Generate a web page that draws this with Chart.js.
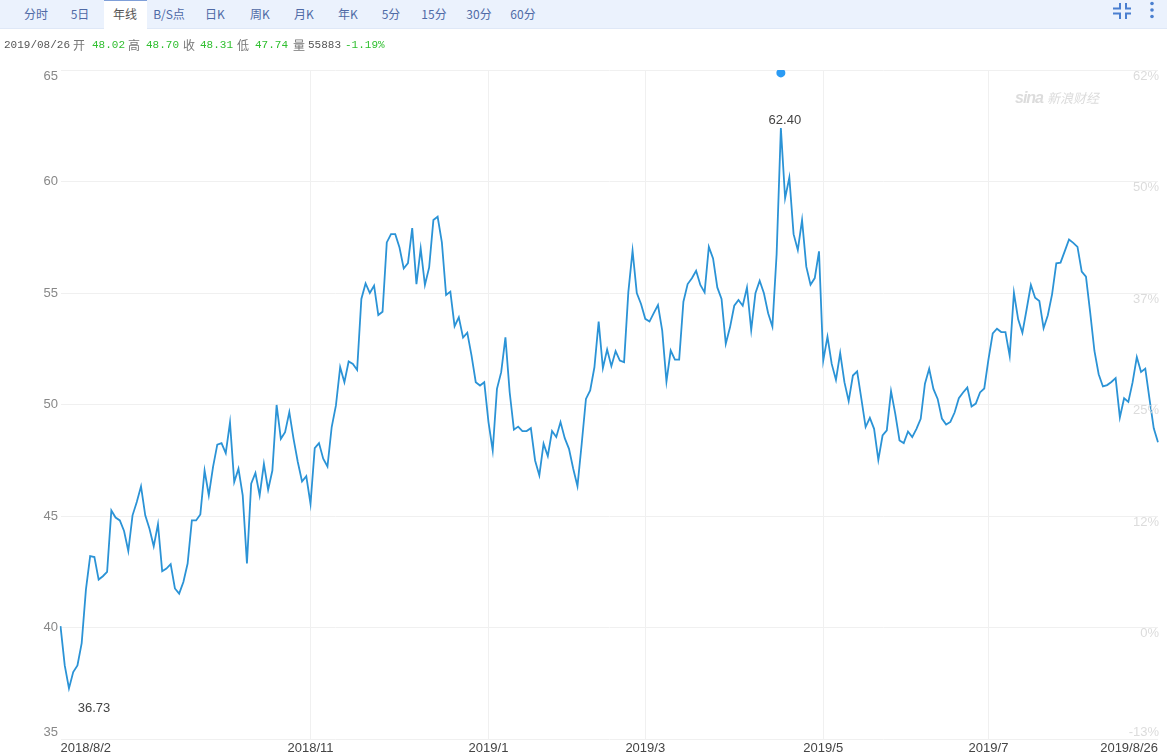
<!DOCTYPE html>
<html>
<head>
<meta charset="utf-8">
<style>
  html, body { margin: 0; padding: 0; background: #fff; overflow: hidden; }
  #page { position: relative; width: 1167px; height: 754px; }
  #bar { position: absolute; left: 0; top: 0; width: 1167px; height: 28px; background: #ebf2fd; border-bottom: 1px solid #dfe8f7; }
  #activeTab { position: absolute; left: 104px; top: 0; width: 43px; height: 29px; background: #fff; border-top: 1px solid #7f9fd8; box-sizing: border-box; }
  .tab { position: absolute; top: 5px; transform: translateX(-50%); font: 12px "Noto Sans CJK SC", sans-serif; line-height: 18px; color: #4f6aa6; white-space: nowrap; }
  .tab.on { color: #555; }
  .info { position: absolute; top: 37px; font: 11px "Liberation Mono", monospace; line-height: 16px; color: #555; white-space: nowrap; }
  .info.cn { font: 12px "Noto Sans CJK SC", sans-serif; line-height: 16px; color: #777; }
  .info.up { color: #2fbf2f; }
  #logo { position: absolute; left: 1015px; top: 88px; color: #dcdcdc; font-style: italic; white-space: nowrap; }
  #logo b { font: italic bold 16px "Liberation Sans", sans-serif; letter-spacing: -1px; }
  #logo span { font: italic 13px "Noto Sans CJK SC", sans-serif; }
  canvas { position: absolute; left: 0; top: 0; }
  svg { position: absolute; left: 0; top: 0; }
</style>
<script src="https://cdn.jsdelivr.net/npm/chart.js@4"></script>
</head>
<body>
<div id="page">
  <canvas id="myChart" width="1167" height="754"></canvas>
  <div id="bar"></div>
  <div id="activeTab"></div>
  <div id="logo"><b>sina</b> <span>新浪财经</span></div>
  <svg width="1167" height="29">
    <g fill="none" stroke="#4a7fd0" stroke-width="2">
      <path d="M1113 8.5h7V3M1131 8.5h-5V3M1113 13.5h7V19M1131 13.5h-5V19"/>
    </g>
    <g fill="#4a7fd0">
      <circle cx="1152" cy="3.5" r="1.8"/><circle cx="1152" cy="10" r="1.8"/><circle cx="1152" cy="16.5" r="1.8"/>
    </g>
  </svg>
</div>
<script>
// closing price per trading day
const closes = [
  40.06, 38.3, 37.27, 38.0, 38.3, 39.3, 41.7, 43.2, 43.16, 42.15,
  42.3, 42.5, 45.25, 44.93, 44.8, 44.33, 43.43, 45.03, 45.63, 46.33,
  45.03, 44.43, 43.64, 44.63, 42.52, 42.64, 42.84, 41.75, 41.52, 42.04,
  42.87, 44.8, 44.8, 45.07, 47.04, 45.93, 47.2, 48.2, 48.27, 47.82,
  49.2, 46.52, 47.12, 45.93, 42.87, 46.45, 46.93, 45.93, 47.34, 46.18,
  47.04, 49.98, 48.46, 48.76, 49.66, 48.46, 47.42, 46.55, 46.79, 45.55,
  48.04, 48.27, 47.57, 47.22, 48.99, 49.96, 51.67, 51.0, 51.93, 51.82,
  51.55, 54.73, 55.43, 55.0, 55.33, 54.01, 54.16, 57.27, 57.64, 57.64,
  57.04, 56.1, 56.34, 57.91, 55.4, 57.0, 55.36, 56.15, 58.27, 58.42,
  57.27, 54.91, 55.06, 53.51, 53.91, 53.0, 53.22, 52.19, 51.0, 50.85,
  51.0, 49.21, 47.94, 50.7, 51.45, 53.01, 50.55, 48.87, 49.01, 48.81,
  48.81, 48.94, 47.49, 46.82, 48.24, 47.69, 48.81, 48.54, 49.21, 48.49,
  48.01, 47.12, 46.34, 48.24, 50.25, 50.63, 51.67, 53.72, 51.63, 52.46,
  51.72, 52.39, 51.97, 51.9, 55.03, 56.9, 55.0, 54.51, 53.84, 53.72,
  54.1, 54.46, 53.31, 51.03, 52.42, 52.01, 52.01, 54.61, 55.4, 55.66,
  56.0, 55.36, 55.03, 57.07, 56.55, 55.25, 54.73, 52.72, 53.46, 54.43,
  54.69, 54.43, 55.25, 53.34, 54.99, 55.55, 54.99, 54.09, 53.49, 56.75,
  62.4, 59.25, 60.18, 57.64, 56.93, 58.27, 56.18, 55.37, 55.67, 56.87,
  51.97, 53.04, 51.82, 51.1, 52.31, 51.0, 50.15, 51.3, 51.49, 50.25,
  48.99, 49.4, 48.91, 47.52, 48.61, 48.84, 50.6, 49.58, 48.39, 48.27,
  48.79, 48.54, 48.91, 49.36, 50.93, 51.6, 50.7, 50.25, 49.37, 49.1,
  49.22, 49.64, 50.28, 50.54, 50.76, 49.91, 50.04, 50.54, 50.72, 52.03,
  53.19, 53.4, 53.25, 53.25, 52.18, 55.01, 53.82, 53.22, 54.27, 55.36,
  54.79, 54.64, 53.42, 54.0, 54.94, 56.33, 56.36, 56.88, 57.4, 57.25,
  57.07, 55.96, 55.73, 54.12, 52.4, 51.36, 50.81, 50.87, 51.01, 51.18,
  49.42, 50.28, 50.12, 50.99, 52.13, 51.46, 51.61, 50.24, 48.93, 48.31
];

const tickIndexes = [0, 59, 101, 138, 180, 219, 259];
const tickLabels = ['2018/8/2', '2018/11', '2019/1', '2019/3', '2019/5', '2019/7', '2019/8/26'];
const priceTicks = [65, 60, 55, 50, 45, 40, 35];
const percentTicks = ['62%', '50%', '37%', '25%', '12%', '0%', '-13%'];

const markerIndex = 170;
const markerValue = 64.87;
const highIndex = 170;
const highText = '62.40';
const lowIndex = 2;
const lowValue = 36.73;
const lowText = '36.73';

const tabNames = ['分时', '5日', '年线', 'B/S点', '日K', '周K', '月K', '年K', '5分', '15分', '30分', '60分'];
const tabCentres = [36, 80, 125, 169, 215, 260, 304, 348, 391, 434, 479, 523];

// [text, left, class]
const infoItems = [
  ['2019/08/26', 4, ''], ['开', 73, 'cn'], ['48.02', 92, 'up'], ['高', 128, 'cn'], ['48.70', 146, 'up'],
  ['收', 183, 'cn'], ['48.31', 200, 'up'], ['低', 237, 'cn'], ['47.74', 255, 'up'], ['量', 293, 'cn'],
  ['55883', 308, ''], ['-1.19%', 345, 'up']
];

const page = document.getElementById('page');
tabNames.forEach((name, i) => {
  const el = document.createElement('div');
  el.className = 'tab' + (name === '年线' ? ' on' : '');
  el.style.left = tabCentres[i] + 'px';
  el.textContent = name;
  page.appendChild(el);
});
infoItems.forEach(([text, left, cls]) => {
  const el = document.createElement('div');
  el.className = 'info ' + cls;
  el.style.left = left + 'px';
  el.textContent = text;
  page.appendChild(el);
});

const labels = closes.map((v, i) => {
  const k = tickIndexes.indexOf(i);
  return k < 0 ? '' : tickLabels[k];
});
const markerSeries = closes.map((v, i) => (i === markerIndex ? markerValue : null));

// price labels on the left, percent labels inside the right edge, min and max notes
const axisText = {
  id: 'axisText',
  afterDraw(chart) {
    const { ctx, chartArea, scales } = chart;
    const y = scales.y;
    const x = scales.x;
    ctx.save();
    ctx.font = '13px "Liberation Sans", Arial, sans-serif';
    ctx.textBaseline = 'middle';
    priceTicks.forEach((p, i) => {
      const py = y.getPixelForValue(p);
      const first = i === 0;
      const last = i === priceTicks.length - 1;
      ctx.textAlign = 'right';
      ctx.fillStyle = '#888';
      ctx.fillText(String(p), 58, first ? py + 6 : last ? py - 7 : py);
      ctx.fillStyle = '#dcdcdc';
      ctx.fillText(percentTicks[i], chartArea.right + 1, last ? py - 7 : py + 6);
    });
    ctx.textAlign = 'center';
    ctx.fillStyle = '#444';
    ctx.fillText(highText, x.getPixelForValue(highIndex) + 4, y.getPixelForValue(closes[highIndex]) - 8);
    ctx.fillText(lowText, x.getPixelForValue(lowIndex) + 25, y.getPixelForValue(lowValue) + 8);
    ctx.restore();
  }
};

new Chart(document.getElementById('myChart'), {
  type: 'line',
  data: {
    labels,
    datasets: [
      {
        data: closes,
        borderColor: '#2b93d6',
        borderWidth: 1.8,
        pointRadius: 0,
        tension: 0
      },
      {
        data: markerSeries,
        showLine: false,
        pointRadius: 4.5,
        pointBackgroundColor: '#2b9bf4',
        pointBorderWidth: 0
      }
    ]
  },
  options: {
    responsive: false,
    animation: false,
    layout: { padding: { left: 60.5, right: 9, top: 70, bottom: 0 } },
    plugins: { legend: { display: false }, tooltip: { enabled: false } },
    scales: {
      x: {
        type: 'category',
        offset: false,
        afterBuildTicks: (scale) => {
          scale.ticks = scale.ticks.filter((t) => labels[t.value] !== '');
        },
        afterFit: (scale) => { scale.height = 15; },
        grid: {
          drawTicks: false,
          color: (c) => (c.index === 0 || c.index === tickIndexes.length - 1 ? 'rgba(0,0,0,0)' : '#f0f0f0')
        },
        border: { display: false },
        ticks: {
          autoSkip: false,
          maxRotation: 0,
          align: 'inner',
          padding: 2,
          color: '#444',
          font: { family: '"Liberation Sans", Arial, sans-serif', size: 13 },
          callback: (value, i, ticks) => labels[ticks[i].value]
        }
      },
      y: {
        min: 35,
        max: 65,
        afterFit: (scale) => { scale.width = 0; },
        grid: { drawTicks: false, color: '#f0f0f0' },
        border: { display: false },
        ticks: { stepSize: 5, display: false }
      }
    }
  },
  plugins: [axisText]
});
</script>
</body>
</html>
